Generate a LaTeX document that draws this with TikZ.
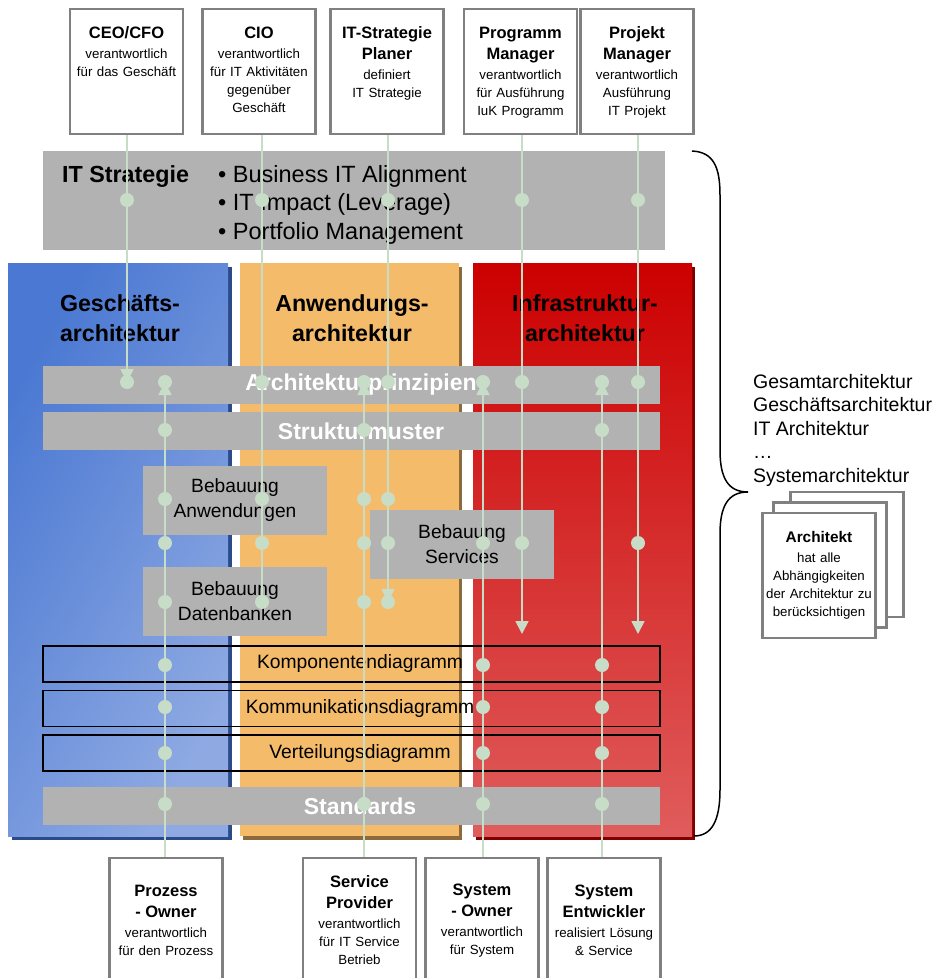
\documentclass[tikz,border=0pt]{standalone}
\usepackage{fontspec}
\setmainfont{Liberation Sans}
\usetikzlibrary{arrows.meta}

\definecolor{boxgray}{HTML}{808080}
\definecolor{bandgray}{HTML}{B2B2B2}
\definecolor{linkgreen}{HTML}{C8DDC8}
\definecolor{bizblue}{HTML}{4A78D2}
\definecolor{bizbluelight}{HTML}{8FAAE3}
\definecolor{bizshadow}{HTML}{2B4A8A}
\definecolor{apporange}{HTML}{F4BC6A}
\definecolor{appshadow}{HTML}{8C6A3C}
\definecolor{infrared}{HTML}{CC0000}
\definecolor{infraredlight}{HTML}{E05C5C}
\definecolor{infrashadow}{HTML}{800000}

\newcommand{\rolename}{\bfseries\fontsize{16.5}{20}\selectfont}

\tikzset{
    rolebox/.style = {draw=boxgray, line width=2.5pt, fill=white, minimum width=113pt,
        minimum height=125pt, inner sep=0pt},
    roletext/.style = {text width=130pt, align=center, inner sep=0pt,
        font=\fontsize{13.3}{18}\selectfont},
    coltitle/.style = {align=center, inner sep=0pt, font=\bfseries\fontsize{23.2}{30}\selectfont},
    bandtext/.style = {text=white, inner sep=0pt, font=\bfseries\fontsize{23}{28}\selectfont},
    bebauung/.style = {fill=bandgray, minimum width=184pt, minimum height=69pt, inner sep=0pt,
        align=center, font=\fontsize{19.2}{25}\selectfont},
    diagrow/.style = {draw=black, line width=1.6pt, minimum width=617pt, minimum height=36pt,
        inner sep=0pt},
    rowtext/.style = {inner sep=0pt, font=\fontsize{19.3}{23}\selectfont},
    link/.style = {draw=linkgreen, line width=1.8pt},
    dot/.style = {circle, fill=linkgreen, inner sep=0pt, minimum size=14pt},
}

\begin{document}
\begin{tikzpicture}[x=1pt, y=-1pt, >={Triangle[length=13pt, width=13pt]}]
    \useasboundingbox (0,0) rectangle (934,978);
    \clip (0,0) rectangle (934,978);

    % columns
    \fill [bizshadow] (12,267) rectangle (232,840);
    \shade [top color=bizblue, bottom color=bizbluelight, shading angle=60] (8,263) rectangle (228,836);
    \fill [appshadow] (243,267) rectangle (462,840);
    \fill [apporange] (240,263) rectangle (459,836);
    \fill [infrashadow] (476,267) rectangle (695,840);
    \shade [top color=infrared, bottom color=infraredlight] (473,263) rectangle (692,836);

    \node [coltitle] (biztitle) at (120,318) {Geschäfts-\\architektur};
    \node [coltitle] (apptitle) at (352,318) {Anwendungs-\\architektur};
    \node [coltitle] (infratitle) at (585,318) {Infrastruktur-\\architektur};

    % IT strategy band
    \fill [bandgray] (43,151) rectangle (665,250);
    \node [anchor=base west, inner sep=0pt, font=\bfseries\fontsize{23.3}{28}\selectfont] (itstrat) at (62,182) {IT Strategie};
    \foreach \txt [count=\i] in {Business IT Alignment, IT Impact (Leverage), Portfolio Management}
        \node [anchor=base west, inner sep=0pt, font=\fontsize{23.5}{28}\selectfont] (goal\i) at (218,153.5+28.5*\i) {• \txt};

    % bands
    \fill [bandgray] (43,366) rectangle (660,404);
    \node [bandtext] (prinzipien) at (361,385) {Architekturprinzipien};
    \fill [bandgray] (43,412) rectangle (660,450);
    \node [bandtext] (muster) at (361,431) {Strukturmuster};
    \fill [bandgray] (43,787) rectangle (660,825);
    \node [bandtext] (standards) at (360,806) {Standards};

    \node [bebauung] (bebanw) at (235,500.5) {Bebauung\\Anwendungen};
    \node [bebauung] (bebdb) at (235,601.5) {Bebauung\\Datenbanken};
    \node [bebauung] (bebsrv) at (462,544.5) {Bebauung\\Services};

    \node [diagrow] (komp) at (351.5,664) {};
    \node [rowtext] (komptxt) at (360,664) {Komponentendiagramm};
    \node [diagrow] (komm) at (351.5,708.5) {};
    \node [rowtext] (kommtxt) at (360,708.5) {Kommunikationsdiagramm};
    \node [diagrow] (vert) at (351.5,753) {};
    \node [rowtext] (verttxt) at (360,753) {Verteilungsdiagramm};

    % roles on top
    \node [rolebox] (ceo) at (126.5,71.5) {};
    \node [roletext, anchor=north, yshift=-19pt] (ceotxt) at (ceo.north) {{\rolename CEO/CFO}\\[2pt] verantwortlich\\für das Geschäft};
    \node [rolebox] (cio) at (259,71.5) {};
    \node [roletext, anchor=north, yshift=-19pt] (ciotxt) at (cio.north) {{\rolename CIO}\\[2pt] verantwortlich\\für IT Aktivitäten\\gegenüber\\Geschäft};
    \node [rolebox] (its) at (387,71.5) {};
    \node [roletext, anchor=north, yshift=-19pt] (itstxt) at (its.north) {{\rolename IT-Strategie\\[3pt] Planer}\\[2pt] definiert\\IT Strategie};
    \node [rolebox] (prog) at (520.5,71.5) {};
    \node [roletext, anchor=north, yshift=-19pt] (progtxt) at (prog.north) {{\rolename Programm\\[3pt] Manager}\\[2pt] verantwortlich\\für Ausführung\\IuK Programm};
    \node [rolebox] (proj) at (637,71.5) {};
    \node [roletext, anchor=north, yshift=-19pt] (projtxt) at (proj.north) {{\rolename Projekt\\[3pt] Manager}\\[2pt] verantwortlich\\Ausführung\\IT Projekt};

    % roles below
    \node [rolebox, roletext, text width=110pt] (proz) at (166,920.5) {{\rolename Prozess\\[3pt] - Owner}\\[2pt] verantwortlich\\für den Prozess};
    \node [rolebox, roletext, text width=110pt] (serv) at (359.5,920.5) {{\rolename Service\\[3pt] Provider}\\[2pt] verantwortlich\\für IT Service\\Betrieb};
    \node [rolebox, roletext, text width=110pt] (sysown) at (482,920.5) {{\rolename System\\[3pt] - Owner}\\[2pt] verantwortlich\\für System};
    \node [rolebox, roletext, text width=110pt] (sysdev) at (604,920.5) {{\rolename System\\[3pt] Entwickler}\\[2pt] realisiert Lösung\\\& Service};

    % brace and overview
    \draw [line width=1.5pt] (692,151) .. controls (714,152) and (720,168) .. (720,195) -- (720,450)
        .. controls (720,478) and (728,492) .. (748,492) .. controls (728,492) and (720,506) .. (720,534)
        -- (720,790) .. controls (720,820) and (712,836) .. (694,836);
    \foreach \txt [count=\i] in {Gesamtarchitektur, Geschäftsarchitektur, IT Architektur, …, Systemarchitektur}
        \node [anchor=base west, inner sep=0pt, font=\fontsize{19.5}{23}\selectfont] (level\i) at (753,364.5+23.5*\i) {\txt};

    \node [rolebox] (arch3) at (847,554.5) {};
    \node [rolebox] (arch2) at (830,565) {};
    \node [rolebox, roletext, text width=110pt] (arch1) at (819,575.5) {{\bfseries\fontsize{15.4}{19}\selectfont Architekt}\\[2pt] hat alle\\Abhängigkeiten\\der Architektur zu\\berücksichtigen};

    % connectors
    \coordinate (ceo-end) at (127,382);
    \coordinate (cio-end) at (262,602);
    \coordinate (its-end) at (388,602);
    \coordinate (prog-end) at (522,634);
    \coordinate (proj-end) at (638,634);
    \coordinate (proz-end) at (165,382);
    \coordinate (serv-end) at (364,382);
    \coordinate (sysown-end) at (483,382);
    \coordinate (sysdev-end) at (602,382);

    \draw [link, ->] (ceo-end |- ceo.south) -- (ceo-end);
    \draw [link] (cio-end |- cio.south) -- (cio-end);
    \draw [link, ->] (its-end |- its.south) -- (its-end);
    \draw [link, ->] (prog-end |- prog.south) -- (prog-end);
    \draw [link, ->] (proj-end |- proj.south) -- (proj-end);
    \draw [link, ->] (proz-end |- proz.north) -- (proz-end);
    \draw [link, ->] (serv-end |- serv.north) -- (serv-end);
    \draw [link, ->] (sysown-end |- sysown.north) -- (sysown-end);
    \draw [link, ->] (sysdev-end |- sysdev.north) -- (sysdev-end);

    \foreach \x/\role/\ys in {127/ceo/{200,382}, 262/cio/{200,382,499,543,602},
            388/its/{200,382,499,543,602}, 522/prog/{200,382,543}, 638/proj/{200,382,543},
            165/proz/{382,430,499,543,602,665,707,753,804}, 364/serv/{382,430,499,543,602,804},
            483/sysown/{382,543,665,707,753,804}, 602/sysdev/{382,430,665,707,753,804}}
        \foreach \y [count=\i] in \ys
            \node [dot] (\role-dot\i) at (\x,\y) {};
\end{tikzpicture}
\end{document}
